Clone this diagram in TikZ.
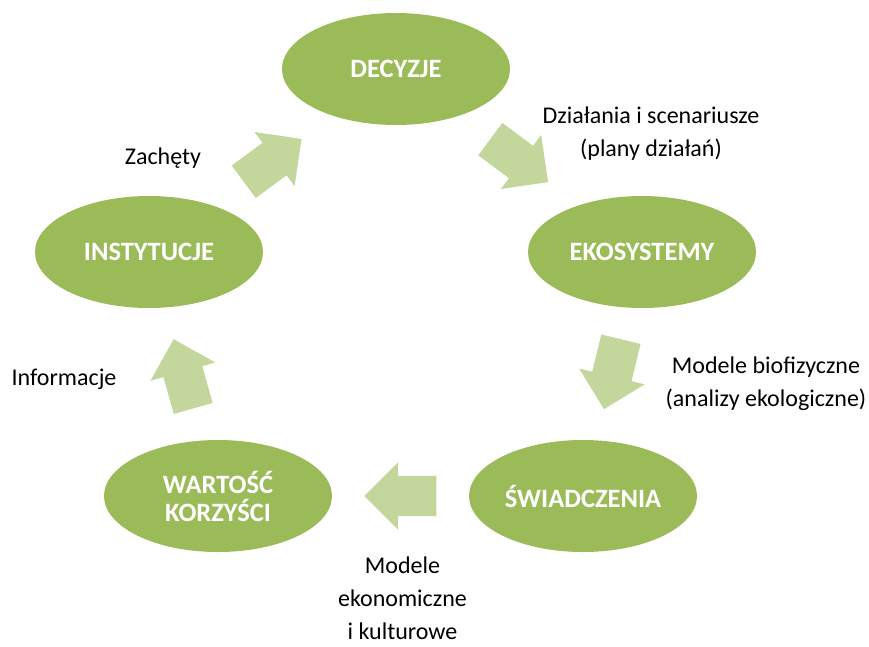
\documentclass[tikz,border=0pt]{standalone}
\usepackage{fontspec}
\setmainfont{Carlito}
\usepackage{tikz}
\usetikzlibrary{shapes,shapes.geometric,shapes.arrows}
\usetikzlibrary{calc,positioning}
\definecolor{ciemnazielen}{HTML}{9BBB59}
\definecolor{jasnazielen}{HTML}{C3D69B}

\begin{document}
\begin{tikzpicture}[x=1pt,y=-1pt,
	etap/.style={ellipse,fill=ciemnazielen,text=white,minimum width=228pt,minimum height=112pt,inner sep=0pt,font=\fontsize{26.5}{28}\selectfont\bfseries,align=center},
	strzalka/.style={single arrow,fill=jasnazielen,draw=none,minimum height=72pt,inner xsep=0pt,inner ysep=20pt,single arrow head extend=13.5pt,sloped,allow upside down},
	opis/.style={font=\fontsize{24}{33}\selectfont,align=center,inner sep=0pt}
	]
	\useasboundingbox (0,0) rectangle (869,646);

	\node[etap] (decyzje) at (396,69) {DECYZJE};
	\node[etap] (ekosystemy) at (642,252) {EKOSYSTEMY};
	\node[etap] (swiadczenia) at (583,496) {ŚWIADCZENIA};
	\node[etap] (wartosc) at (218,496) {WARTOŚĆ\\KORZYŚCI};
	\node[etap] (instytucje) at (149,252) {INSTYTUCJE};

	% strzalki w polowie drogi miedzy elipsami
	\foreach \a/\b in {instytucje/decyzje,decyzje/ekosystemy,ekosystemy/swiadczenia,swiadczenia/wartosc,wartosc/instytucje}
		\path ($(\a.center)!.5!(\b.center)!36pt!(\a.center)$) -- node[strzalka,pos=0,anchor=tail] (\a-\b) {} (\b.center);

	\node[opis] (dzialania) at (651,133.5) {Działania i scenariusze\\(plany działań)};
	\node[opis] (biofiz) at (766,384) {Modele biofizyczne\\(analizy ekologiczne)};
	\node[opis] (ekonom) at (402.5,598) {Modele\\ekonomiczne\\i kulturowe};
	\node[opis,anchor=base] (informacje) at (64,385) {Informacje};
	\node[opis,anchor=base] (zachety) at (163,164) {Zachęty};
\end{tikzpicture}
\end{document}
